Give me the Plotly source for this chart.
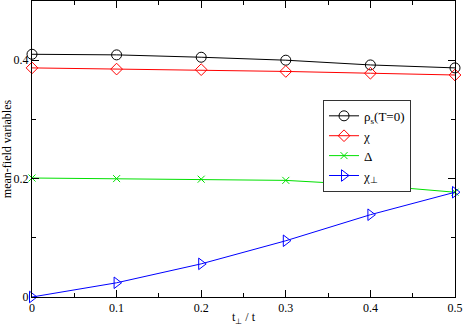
import plotly.graph_objects as go

t_perp = [0, 0.1, 0.2, 0.3, 0.4, 0.5]
rho_s = [0.410, 0.409, 0.405, 0.400, 0.392, 0.387]
chi = [0.387, 0.385, 0.384, 0.381, 0.378, 0.375]
delta = [0.201, 0.200, 0.199, 0.197, 0.189, 0.177]
chi_perp = [0.0, 0.024, 0.056, 0.095, 0.139, 0.177]

serif = 'Liberation Serif'

series = [
    ('ρ<sub>s</sub>(T=0)', rho_s, 'black', 'circle-open', 10),
    ('χ', chi, 'red', 'diamond-open', 9),
    ('Δ', delta, '#00e000', 'x-thin-open', 7),
    ('χ<sub>⊥</sub>', chi_perp, 'blue', 'triangle-right-open', 10),
]

fig = go.Figure()
for name, vals, color, symbol, size in series:
    fig.add_trace(go.Scatter(
        x = t_perp,
        y = vals,
        name = name,
        mode = 'lines+markers',
        cliponaxis = False,
        line = dict(color = color, width = 1),
        marker = dict(symbol = symbol, size = size, color = color,
                      line = dict(color = color, width = 1)),
    ))

axis_common = dict(
    showgrid = False,
    zeroline = False,
    showline = True,
    linecolor = 'black',
    linewidth = 1,
    mirror = 'ticks',
    ticks = 'inside',
    ticklen = 7,
    tickcolor = 'black',
    ticklabelstandoff = 0,
    tickfont = dict(family = serif, size = 12, color = 'black'),
)

fig.update_layout(
    width = 463,
    height = 326,
    margin = dict(l = 32, r = 8, t = 1, b = 29, autoexpand = False),
    paper_bgcolor = 'white',
    plot_bgcolor = 'white',
    font = dict(family = serif, size = 12, color = 'black'),
    showlegend = True,
    legend = dict(
        x = 0.688, y = 0.666, xanchor = 'left', yanchor = 'top',
        bordercolor = '#333', borderwidth = 1, bgcolor = 'white',
        font = dict(family = serif, size = 13),
        tracegroupgap = 0, itemwidth = 30,
    ),
    xaxis = dict(axis_common, range = [0, 0.5], dtick = 0.1,
                 minor = dict(dtick = 0.05, ticks = 'inside', ticklen = 4, tickcolor = 'black'),
                 title = dict(text = 't<sub>⊥</sub> / t', standoff = 0,
                              font = dict(family = serif, size = 12))),
    yaxis = dict(axis_common, range = [0, 0.5],
                 tickvals = [0, 0.2, 0.4], ticktext = ['0', '0.2', '0.4'],
                 minor = dict(tickvals = [0.1, 0.3, 0.5], ticks = 'inside', ticklen = 4, tickcolor = 'black'),
                 title = dict(text = 'mean-field variables', standoff = 0,
                              font = dict(family = serif, size = 12))),
)

fig.write_html("out.html", config = dict(displayModeBar = False),
               post_script = "document.body.style.margin='0';")
